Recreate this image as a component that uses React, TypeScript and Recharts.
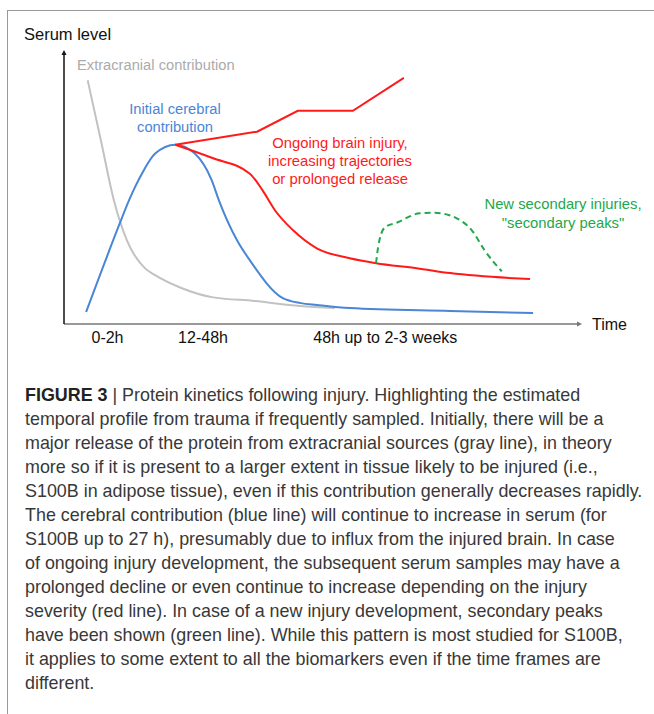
import { LineChart, Line, XAxis, YAxis, ReferenceLine } from "recharts";

// abstract units: time 0..100.6 along x, serum level 0..105 along y
const TIME_TICKS = [8.45, 27, 62.4];
const TIME_LABELS = ["0-2h", "12-48h", "48h up to 2-3 weeks"];

const EXTRACRANIAL: [number, number][] = [
  [4.6, 93.4], [7.2, 70], [9.7, 47.3], [12.2, 32.1], [15.7, 21.4], [17.7, 18.7],
  [22.9, 13.7], [28.7, 10.3], [37.1, 8.8], [45.8, 6.9], [52.6, 6.1],
];

const CEREBRAL: [number, number][] = [
  [4.3, 4.6], [10.9, 38.9], [12.6, 47.3], [15.1, 57.5], [17.7, 65.3], [21.6, 68.7],
  [25.4, 65.3], [28.7, 55], [30.1, 47.3], [33.6, 32.1], [36.1, 24.4], [42.5, 9.9],
  [46, 8], [49.1, 7.3], [55.5, 6.1], [75, 5], [91.1, 4.2],
];

const ONGOING_UP: [number, number][] = [
  [21.6, 68.7], [37.5, 73.7], [45.4, 81.7], [56.1, 81.7], [66, 94.3],
];

const ONGOING_DECLINE: [number, number][] = [
  [21.6, 68.7], [28.7, 63.7], [36.1, 57.6], [38.6, 51.1], [41, 43.5], [44.5, 35.9],
  [49.1, 29], [55.5, 25.2], [60.6, 23.3], [68.5, 21.4], [75, 19.5], [90.5, 17.2],
];

const SECONDARY: [number, number][] = [
  [60.6, 23.3], [61, 29.4], [62.3, 37], [64.7, 38.9], [69.1, 42.4], [72, 42.6],
  [75, 41.6], [76.3, 40.5], [79.2, 35.9], [81.7, 28.2], [85, 20.2],
];

const CAPTION_LINES = [
  "temporal profile from trauma if frequently sampled. Initially, there will be a",
  "major release of the protein from extracranial sources (gray line), in theory",
  "more so if it is present to a larger extent in tissue likely to be injured (i.e.,",
  "S100B in adipose tissue), even if this contribution generally decreases rapidly.",
  "The cerebral contribution (blue line) will continue to increase in serum (for",
  "S100B up to 27 h), presumably due to influx from the injured brain. In case",
  "of ongoing injury development, the subsequent serum samples may have a",
  "prolonged decline or even continue to increase depending on the injury",
  "severity (red line). In case of a new injury development, secondary peaks",
  "have been shown (green line). While this pattern is most studied for S100B,",
  "it applies to some extent to all the biomarkers even if the time frames are",
  "different.",
];

const toPoints = (pairs: [number, number][]) => pairs.map(([t, level]) => ({ t, level }));

const FONT = "'Liberation Sans', Arial, sans-serif";

function ArrowLine(props: any) {
  const { x1, y1, x2, y2, stroke } = props;
  const len = Math.hypot(x2 - x1, y2 - y1) || 1;
  const ux = (x2 - x1) / len;
  const uy = (y2 - y1) / len;
  const head = 5;
  const half = 2.5;
  const bx = x2 - ux * head;
  const by = y2 - uy * head;
  return (
    <g>
      <line x1={x1} y1={y1} x2={bx} y2={by} stroke={stroke} strokeWidth={1.5} />
      <polygon
        points={`${x2},${y2} ${bx - uy * half},${by + ux * half} ${bx + uy * half},${by - ux * half}`}
        fill={stroke}
      />
    </g>
  );
}

function Txt({ x, y, size, color, center, children }: any) {
  return (
    <div
      style={{
        position: "absolute",
        left: x,
        top: y,
        transform: center ? "translate(-50%, -50%)" : "translateY(-50%)",
        fontFamily: FONT,
        fontSize: size,
        lineHeight: 1,
        color,
        whiteSpace: "nowrap",
        textAlign: "center",
      }}
    >
      {children}
    </div>
  );
}

export default function App() {
  return (
    <div style={{ position: "absolute", left: 0, top: 0, width: 654, height: 714, background: "#fff", overflow: "hidden" }}>
      <div
        style={{
          position: "absolute",
          left: 7,
          top: 10,
          width: 660,
          height: 720,
          borderTop: "1.5px solid #999",
          borderLeft: "1.5px solid #999",
        }}
      />

      <div style={{ position: "absolute", left: 0, top: 0 }}>
        <LineChart width={654} height={360} margin={{ top: 50, right: 72, bottom: 6, left: 64 }}>
          <XAxis
            type="number"
            dataKey="t"
            domain={[0, 100.6]}
            ticks={TIME_TICKS}
            interval={0}
            tickFormatter={(v: number) => TIME_LABELS[TIME_TICKS.indexOf(v)] ?? ""}
            axisLine={false}
            tickLine={false}
            tick={{ fill: "#111", fontSize: 16, fontFamily: FONT }}
          />
          <YAxis type="number" dataKey="level" domain={[0, 105]} hide />

          <ReferenceLine segment={[{ x: 0, y: 0 }, { x: 100.6, y: 0 }]} stroke="#777" shape={ArrowLine} />
          <ReferenceLine segment={[{ x: 0, y: 0 }, { x: 0, y: 105 }]} stroke="#111" shape={ArrowLine} />

          <Line data={toPoints(EXTRACRANIAL)} dataKey="level" type="monotone" stroke="#c2c2c2" strokeWidth={2} dot={false} activeDot={false} isAnimationActive={false} />
          <Line data={toPoints(CEREBRAL)} dataKey="level" type="monotone" stroke="#4a86d6" strokeWidth={2} dot={false} activeDot={false} isAnimationActive={false} />
          <Line data={toPoints(ONGOING_UP)} dataKey="level" type="linear" stroke="#ff1a1a" strokeWidth={2} dot={false} activeDot={false} isAnimationActive={false} />
          <Line data={toPoints(ONGOING_DECLINE)} dataKey="level" type="monotone" stroke="#ff1a1a" strokeWidth={2} dot={false} activeDot={false} isAnimationActive={false} />
          <Line data={toPoints(SECONDARY)} dataKey="level" type="monotone" stroke="#22a84a" strokeWidth={2} strokeDasharray="6 4" dot={false} activeDot={false} isAnimationActive={false} />
        </LineChart>
      </div>

      <Txt x={24} y={34} size={16.5} color="#111">Serum level</Txt>
      <Txt x={592} y={325} size={16} color="#111">Time</Txt>
      <Txt x={77} y={65} size={14.7} color="#ababab">Extracranial contribution</Txt>
      <Txt x={175} y={109} size={14.7} color="#4a86d6" center>Initial cerebral</Txt>
      <Txt x={175} y={127} size={14.7} color="#4a86d6" center>contribution</Txt>
      <Txt x={340} y={143} size={14.8} color="#ff1a1a" center>Ongoing brain injury,</Txt>
      <Txt x={340} y={161} size={14.8} color="#ff1a1a" center>increasing trajectories</Txt>
      <Txt x={340} y={179} size={14.8} color="#ff1a1a" center>or prolonged release</Txt>
      <Txt x={563} y={204} size={14.8} color="#22a84a" center>New secondary injuries,</Txt>
      <Txt x={563} y={223} size={14.8} color="#22a84a" center>"secondary peaks"</Txt>

      <div style={{ position: "absolute", left: 25, top: 383, fontFamily: FONT, fontSize: 17.9, lineHeight: "24px", color: "#383838", whiteSpace: "nowrap" }}>
        <div>
          <span style={{ fontWeight: "bold", color: "#222" }}>FIGURE 3</span> | Protein kinetics following injury. Highlighting the estimated
        </div>
        {CAPTION_LINES.map((line) => (
          <div key={line}>{line}</div>
        ))}
      </div>
    </div>
  );
}
